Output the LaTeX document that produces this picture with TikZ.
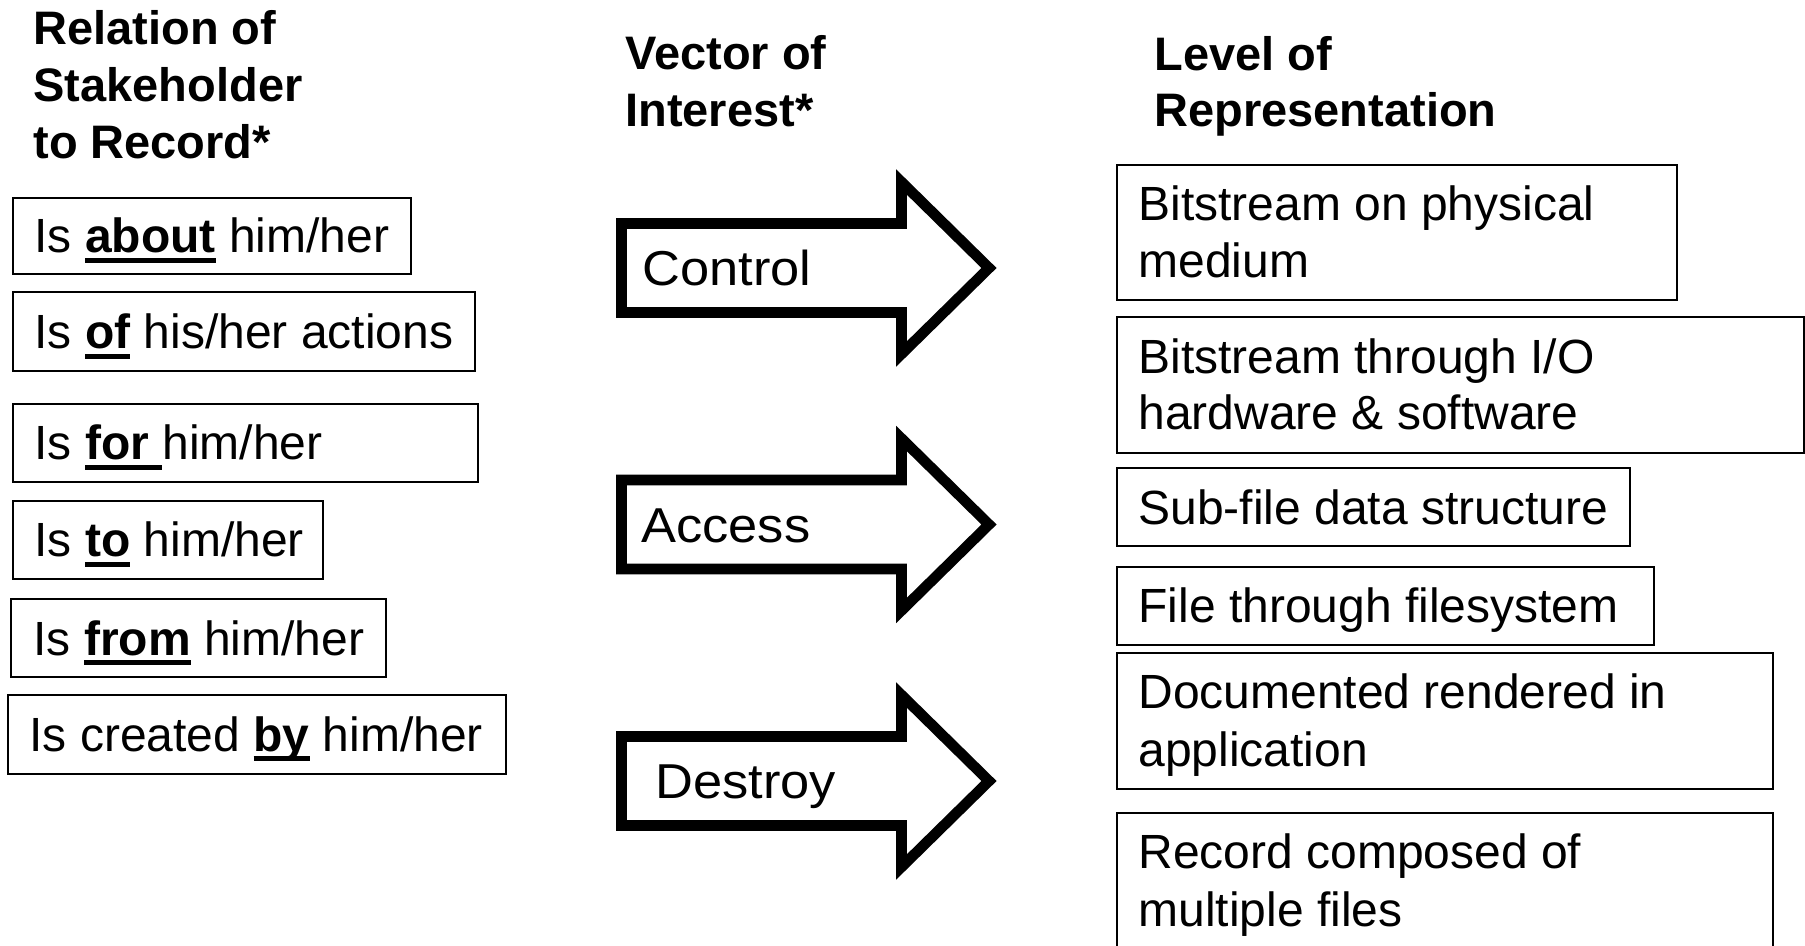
\documentclass[tikz,border=0pt]{standalone}
\usepackage{fontspec}
\setmainfont{Liberation Sans}
\newfontfamily\arrowfont[FakeStretch=1.07]{Liberation Sans}
\usetikzlibrary{fit}
\newcommand\ulb[1]{\setbox0\hbox{\bfseries #1}\rlap{\rule[-0.2em]{\wd0}{0.09em}}\box0\relax}
\begin{document}
\begin{tikzpicture}[x=0.5pt,y=-0.5pt,
  box/.style={draw=black, line width=0.9pt, rectangle, inner sep=0pt},
  txt/.style={anchor=base west, inner sep=0pt, font=\fontsize{24}{28}\selectfont},
  head/.style={anchor=base west, inner sep=0pt, font=\fontsize{23.5}{28}\selectfont\bfseries},
  arrowshape/.style={draw=black, line width=5.3pt, line join=miter, miter limit=10, fill=white},
  arrowtxt/.style={anchor=base west, inner sep=0pt, font=\fontsize{24.5}{28}\selectfont\arrowfont}]
\useasboundingbox (0,0) rectangle (1805,946);
\clip (0,0) rectangle (1805,946);

% headers
\node[head] (h1a) at (33,45) {Relation of};
\node[head] (h1b) at (33,102) {Stakeholder};
\node[head] (h1c) at (33,159) {to Record*};
\node[head] (h2a) at (625,70) {Vector of};
\node[head] (h2b) at (625,127) {Interest*};
\node[head] (h3a) at (1154,71) {Level of};
\node[head] (h3b) at (1154,127) {Representation};

% left boxes
\node[box, fit={(13,198) (411,274)}] (l1) {};
\node[txt] (t1) at (34,253) {Is \ulb{about} him/her};
\node[box, fit={(13,292) (475,371)}] (l2) {};
\node[txt] (t2) at (34,349) {Is \ulb{of} his/her actions};
\node[box, fit={(13,404) (478,482)}] (l3) {};
\node[txt] (t3) at (34,460) {Is \ulb{for }him/her};
\node[box, fit={(13,501) (323,579)}] (l4) {};
\node[txt] (t4) at (34,557) {Is \ulb{to} him/her};
\node[box, fit={(11,599) (386,677)}] (l5) {};
\node[txt] (t5) at (33,655) {Is \ulb{from} him/her};
\node[box, fit={(8,695) (506,774)}] (l6) {};
\node[txt] (t6) at (29,751) {Is created \ulb{by} him/her};

% arrows
\foreach \m/\nm in {268/a1, 524.5/a2, 781/a3}{
  \draw[arrowshape] (621.5,{\m-44.5}) -- (901.5,{\m-44.5}) -- (901.5,{\m-86})
    -- (989,\m) -- (901.5,{\m+86}) -- (901.5,{\m+44.5}) -- (621.5,{\m+44.5}) -- cycle;
}
\node[arrowtxt] (v1) at (642,286) {Control};
\node[arrowtxt] (v2) at (641,543) {Access};
\node[arrowtxt] (v3) at (655,798) {Destroy};

% right boxes
\node[box, fit={(1117,165) (1677,300)}] (r1) {};
\node[txt] (s1a) at (1138,221) {Bitstream on physical};
\node[txt] (s1b) at (1138,278) {medium};
\node[box, fit={(1117,317) (1804,453)}] (r2) {};
\node[txt] (s2a) at (1138,374) {Bitstream through I/O};
\node[txt] (s2b) at (1138,430) {hardware \& software};
\node[box, fit={(1117,468) (1630,546)}] (r3) {};
\node[txt] (s3) at (1138,524) {Sub-file data structure};
\node[box, fit={(1117,567) (1654,645)}] (r4) {};
\node[txt] (s4) at (1138,622) {File through filesystem};
\node[box, fit={(1117,653) (1773,789)}] (r5) {};
\node[txt] (s5a) at (1138,708) {Documented rendered in};
\node[txt] (s5b) at (1138,766) {application};
\node[box, fit={(1117,813) (1773,990)}] (r6) {};
\node[txt] (s6a) at (1138,868) {Record composed of};
\node[txt] (s6b) at (1138,926) {multiple files};
\end{tikzpicture}
\end{document}
